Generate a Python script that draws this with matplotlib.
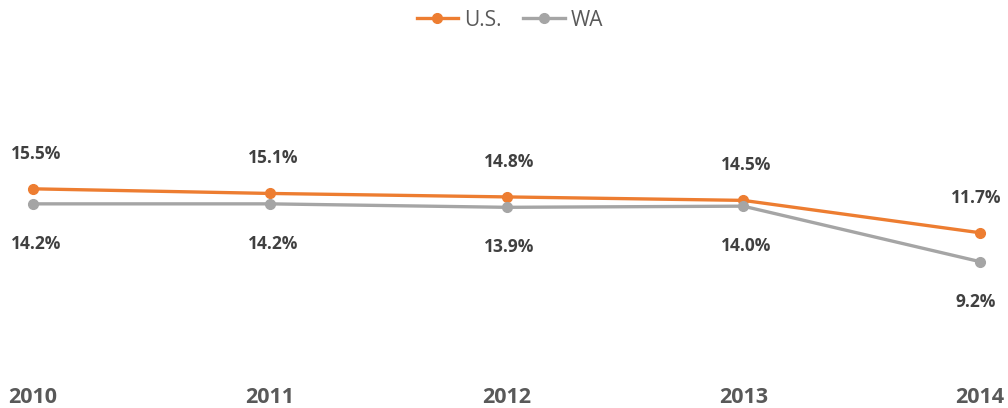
import matplotlib.pyplot as plt

years = [2010, 2011, 2012, 2013, 2014]
us = [15.5, 15.1, 14.8, 14.5, 11.7]
wa = [14.2, 14.2, 13.9, 14.0, 9.2]

plt.rcParams['font.family'] = ['Open Sans', 'DejaVu Sans']

fig = plt.figure(figsize=(10.08, 4.08), dpi=100)
ax = fig.add_axes([33 / 1008, 40 / 408, 947 / 1008, 289 / 408])

ax.plot(years, us, color='#ED7D31', lw=2.4, marker='o', ms=7, label='U.S.', clip_on=False)
ax.plot(years, wa, color='#A5A5A5', lw=2.4, marker='o', ms=7, label='WA', clip_on=False)

for i, (x, y) in enumerate(zip(years, us)):
    dx = -4 if i == len(years) - 1 else 3
    ax.annotate(f'{y:.1f}%', (x, y), xytext=(dx, 35), textcoords='offset pixels',
                ha='center', va='center', fontsize=12.5, fontweight='bold', color='#404040')
for i, (x, y) in enumerate(zip(years, wa)):
    dx = -4 if i == len(years) - 1 else 3
    ax.annotate(f'{y:.1f}%', (x, y), xytext=(dx, -40), textcoords='offset pixels',
                ha='center', va='center', fontsize=12.5, fontweight='bold', color='#404040')

ax.set_xlim(2010, 2014)
ax.set_ylim(0, 25)
ax.set_xticks(years)
ax.set_xticklabels([str(y) for y in years], fontsize=15.5, fontweight='bold', color='#595959')
ax.tick_params(axis='x', length=0, pad=14)
ax.set_yticks([])
for s in ax.spines.values():
    s.set_visible(False)

leg = fig.legend(loc='center', bbox_to_anchor=(510 / 1008, 1 - 20 / 408), ncol=2, frameon=False,
                 fontsize=15, handlelength=2.0, columnspacing=1.0, handletextpad=0.3)
for t in leg.get_texts():
    t.set_color('#595959')

fig.savefig('out.png', dpi=100)
